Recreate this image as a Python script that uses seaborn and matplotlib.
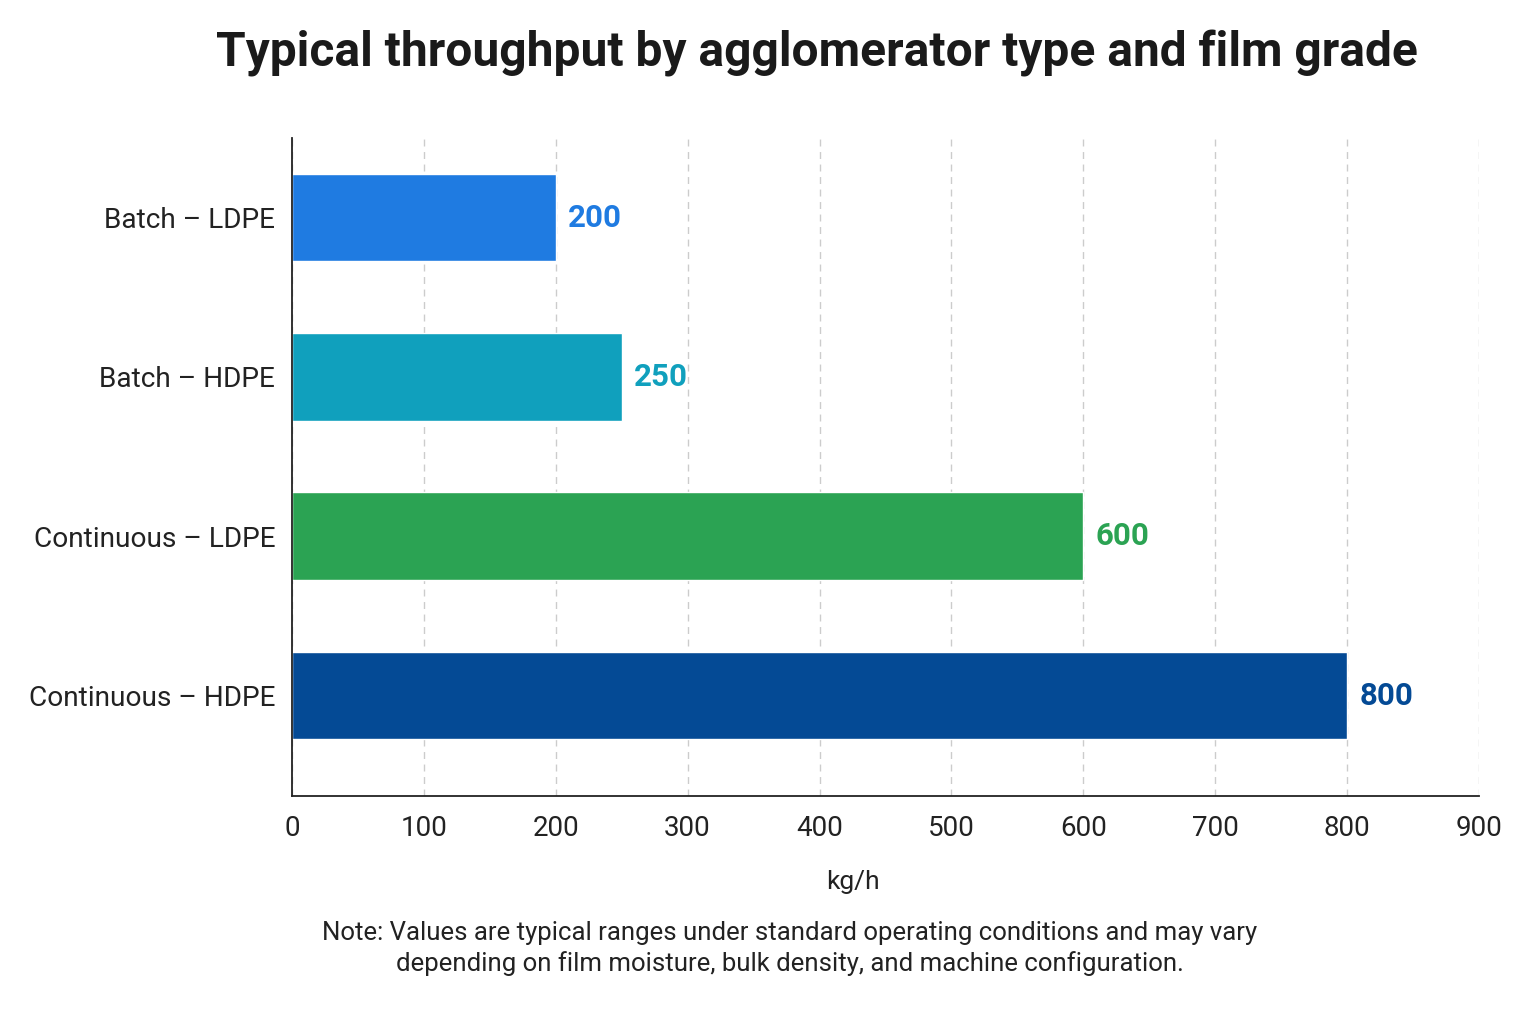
import matplotlib
matplotlib.use("Agg")
import matplotlib.pyplot as plt
import seaborn as sns
import pandas as pd

# data
CATEGORIES = ["Batch – LDPE", "Batch – HDPE", "Continuous – LDPE", "Continuous – HDPE"]
THROUGHPUT = [200, 250, 600, 800]
COLORS = ["#1f7be1", "#10a0bd", "#2ba353", "#044a95"]
X_TICKS = [0, 100, 200, 300, 400, 500, 600, 700, 800, 900]

sns.set_theme(style="white")
plt.rcParams['font.family'] = ['Roboto', 'DejaVu Sans']

df = pd.DataFrame({"cat": CATEGORIES, "val": THROUGHPUT})

fig = plt.figure(figsize=(15.36, 10.24), dpi=100)
ax = fig.add_axes([0.19, 0.2227, 0.773, 0.6426])

sns.barplot(data=df, y="cat", x="val", hue="cat", palette=COLORS,
            order=CATEGORIES, hue_order=CATEGORIES, legend=False,
            width=0.55, saturation=1, ax=ax)

for i, (v, c) in enumerate(zip(THROUGHPUT, COLORS)):
    ax.annotate(f"{v}", xy=(v, i), xytext=(9, 0), textcoords="offset points",
                va="center", ha="left", fontsize=22.5, fontweight="bold", color=c)

ax.set_xlim(0, 900)
ax.set_ylim(3.63, -0.5)
ax.set_xticks(X_TICKS)
ax.set_xticklabels([str(t) for t in X_TICKS])
ax.tick_params(axis="x", labelsize=20, length=8, width=1.2, color="#222222",
               labelcolor="#222222", direction="out", pad=6)
ax.tick_params(axis="y", labelsize=20.2, length=0, labelcolor="#222222", pad=12)
ax.set_ylabel("")
ax.set_xlabel("")
ax.grid(axis="x", linestyle=(0, (5, 4)), color="#cccccc", linewidth=1)
ax.set_axisbelow(True)
for s in ["top", "right"]:
    ax.spines[s].set_visible(False)
for s in ["left", "bottom"]:
    ax.spines[s].set_color("#222222")
    ax.spines[s].set_linewidth(1.3)

fig.text(0.532, 0.948, "Typical throughput by agglomerator type and film grade",
         ha="center", va="center", fontsize=34.5, fontweight="bold", color="#1a1a1a")
fig.text(0.555, 0.139, "kg/h", ha="center", va="center", fontsize=19, color="#222222")
fig.text(0.514, 0.074,
         "Note: Values are typical ranges under standard operating conditions and may vary\n"
         "depending on film moisture, bulk density, and machine configuration.",
         ha="center", va="center", fontsize=18.5, color="#222222",
         multialignment="center", linespacing=1.3)

fig.savefig("out.png", dpi=100, facecolor="white")
